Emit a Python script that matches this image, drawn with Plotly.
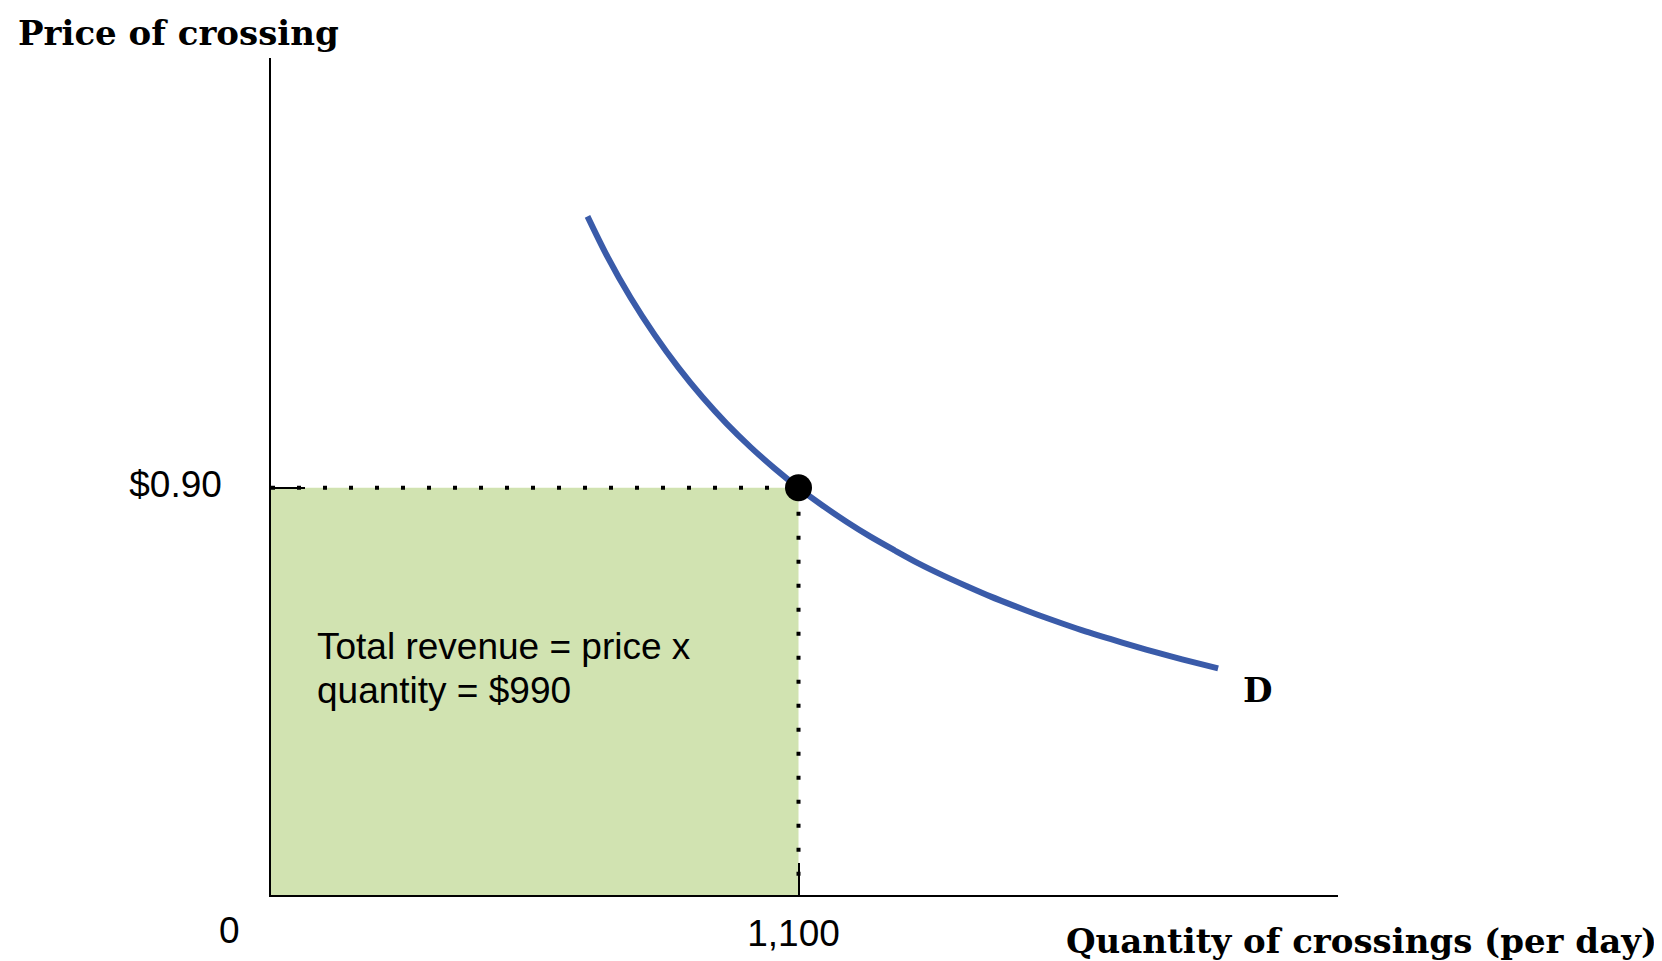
import plotly.graph_objects as go

# Data
demand_q = [660, 700, 750, 800, 850, 900, 950, 1000, 1050, 1100, 1150, 1200, 1250, 1300, 1350,
            1400, 1450, 1500, 1550, 1600, 1650, 1700, 1750, 1800, 1850, 1900, 1975]
demand_p = [1.500, 1.414, 1.320, 1.238, 1.165, 1.100, 1.042, 0.990, 0.943, 0.900, 0.861, 0.825,
            0.792, 0.762, 0.733, 0.707, 0.683, 0.660, 0.639, 0.619, 0.600, 0.582, 0.566, 0.550,
            0.535, 0.521, 0.501]
eq_q = 1100
eq_p = 0.90
x_tick_vals = [eq_q]
x_tick_text = ["1,100"]
y_tick_vals = [eq_p]
y_tick_text = ["$0.90"]
x_range = [0, 2225]
y_range = [0, 1.85]

SANS = "Liberation Sans, Arial, sans-serif"
SERIF = "DejaVu Serif, serif"
W, H = 1662, 961
L, R, T, B = 263, 332, 50, 74

fig = go.Figure()

# Revenue rectangle
fig.add_shape(type="rect", xref="x", yref="y", x0=0, x1=eq_q, y0=0, y1=eq_p,
              fillcolor="#D1E3B1", line=dict(width=0), layer="below")

# Dotted guide lines
fig.add_trace(go.Scatter(x=[0, eq_q], y=[eq_p, eq_p], mode="lines",
                         line=dict(color="black", width=4, dash="4px,22px"),
                         hoverinfo="skip", showlegend=False))
fig.add_trace(go.Scatter(x=[eq_q, eq_q], y=[eq_p, 0], mode="lines",
                         line=dict(color="black", width=4, dash="4px,20px"),
                         hoverinfo="skip", showlegend=False))

# Demand curve
fig.add_trace(go.Scatter(x=demand_q, y=demand_p, mode="lines",
                         line=dict(color="#3A5BA9", width=6, shape="spline", smoothing=0.8),
                         showlegend=False))

# Equilibrium point
fig.add_trace(go.Scatter(x=[eq_q], y=[eq_p], mode="markers",
                         marker=dict(color="black", size=27),
                         showlegend=False))

fig.update_layout(
    width=W, height=H,
    margin=dict(l=L, r=R, t=T, b=B, autoexpand=False),
    plot_bgcolor="white", paper_bgcolor="white",
    showlegend=False,
    title=dict(text="<b>Price of crossing</b>", x=10 / W, xanchor="left", xref="container",
               y=1 - 25 / H, yanchor="middle", yref="container",
               font=dict(family=SERIF, size=34, color="black")),
    xaxis=dict(range=x_range, showgrid=False, zeroline=False, showline=True,
               automargin=False,
               linecolor="black", linewidth=1.5,
               tickvals=x_tick_vals, ticktext=x_tick_text,
               ticks="inside", ticklen=32, tickwidth=1.5, tickcolor="black",
               ticklabelstandoff=5, ticklabelshift=-5,
               tickfont=dict(family=SANS, size=37, color="black")),
    yaxis=dict(range=y_range, showgrid=False, zeroline=False, showline=True,
               automargin=False,
               linecolor="black", linewidth=1.5,
               tickvals=y_tick_vals, ticktext=y_tick_text,
               ticks="inside", ticklen=34, tickwidth=1.5, tickcolor="black",
               ticklabelstandoff=40, ticklabelshift=-4,
               tickfont=dict(family=SANS, size=37, color="black")),
)

pw = W - L - R
ph = H - T - B

fig.add_annotation(x=0, y=0, xref="x", yref="y", text="0", showarrow=False,
                   xshift=-42, yshift=-35, xanchor="center", yanchor="middle",
                   font=dict(family=SANS, size=37, color="black"))

fig.add_annotation(x=(1651 - L) / pw, y=(H - B - 933) / ph, xref="paper", yref="paper",
                   text="<b>Quantity of crossings (per day)</b>", showarrow=False,
                   xanchor="right", yanchor="middle",
                   font=dict(family=SERIF, size=34, color="black"))

fig.add_annotation(x=2058, y=0.4535, xref="x", yref="y", text="<b>D</b>", showarrow=False,
                   xanchor="center", yanchor="middle",
                   font=dict(family=SERIF, size=34, color="black"))

fig.add_annotation(x=91, y=0.549, xref="x", yref="y",
                   text="Total revenue = price x", showarrow=False,
                   xanchor="left", yanchor="middle", align="left",
                   font=dict(family=SANS, size=37, color="black"))
fig.add_annotation(x=91, y=0.451, xref="x", yref="y",
                   text="quantity = $990", showarrow=False,
                   xanchor="left", yanchor="middle", align="left",
                   font=dict(family=SANS, size=37, color="black"))

fig.write_html("out.html")
